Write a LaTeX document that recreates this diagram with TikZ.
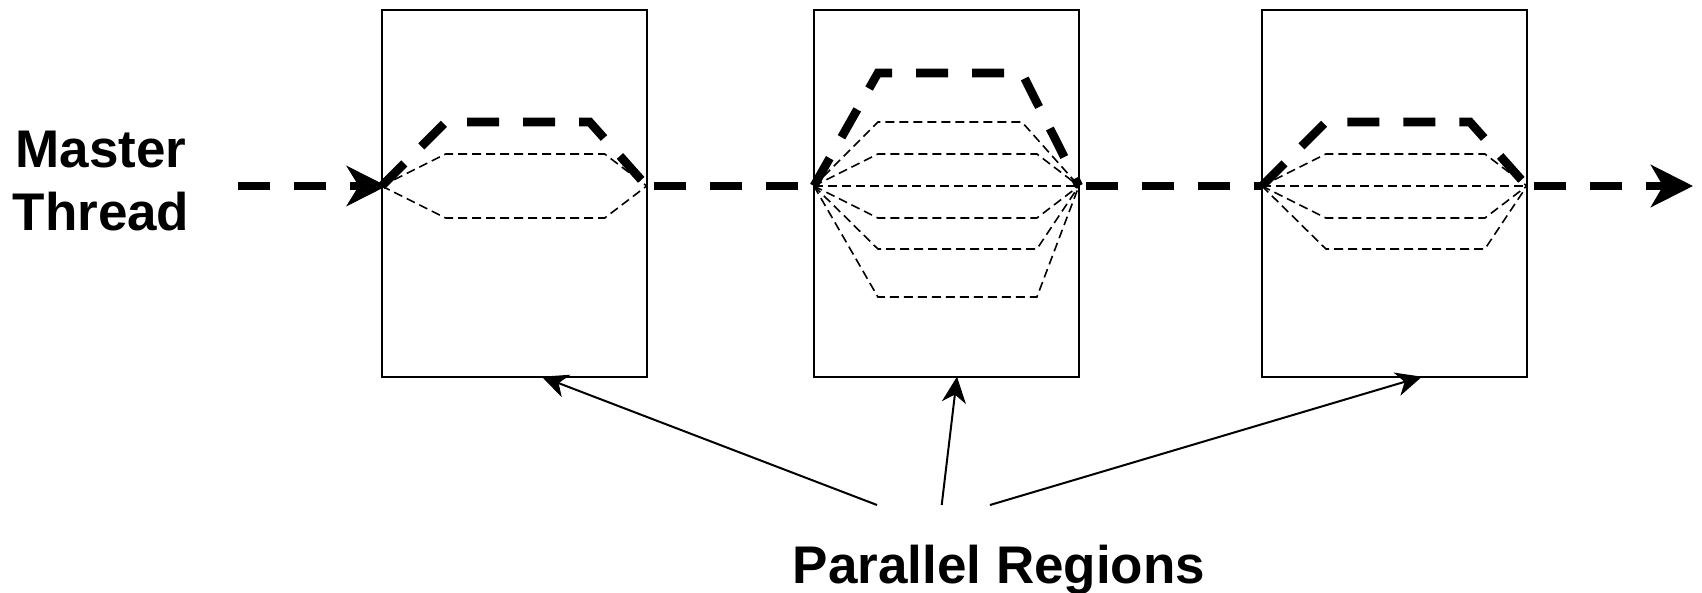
\documentclass[tikz,border=0pt]{standalone}
\usepackage{fontspec}
\setmainfont{Liberation Sans}
\usetikzlibrary{arrows.meta,calc}

% one fan-shaped thread path inside a region box:
% #1 style, #2 left join point, #3 right join point, #4 vertical offset, #5 right inset
\newcommand\threadpath[5]{%
  \draw[#1] (#2) -- ++(64,#4) -- ($(#3)+(-#5,#4)$) -- (#3);}

\begin{document}
\begin{tikzpicture}[x=1pt,y=-1pt,
  region/.style={draw, line width=2pt, minimum width=265pt,
    minimum height=366.7pt, inner sep=0pt, outer sep=0pt},
  master/.style={line width=8.6pt, dash pattern=on 32pt off 24pt},
  worker/.style={line width=1.6pt, dash pattern=on 9pt off 5pt},
  label/.style={font=\fontsize{53}{63}\selectfont\bfseries, align=center,
    inner sep=0pt},
  pointer/.style={line width=2pt,
    -{Stealth[length=26pt,width=24pt,inset=8pt]}},
  bighead/.style={-{Stealth[length=#1,width=#1,inset=12pt]}}
]
\useasboundingbox (0,0) rectangle (1702,593);

% the three parallel regions
\node[region] (b1) at (514.2,193.35) {};
\node[region] (b2) at (946.4,193.35) {};
\node[region] (b3) at (1394.4,193.35) {};

% fork and join points of each region
\coordinate (b1l) at (381.7,186);  \coordinate (b1r) at (646.7,186);
\coordinate (b2l) at (813.9,186);  \coordinate (b2r) at (1078.9,186);
\coordinate (b3l) at (1261.9,186); \coordinate (b3r) at (1526.9,186);

% worker threads
\threadpath{worker}{b1l}{b1r}{-32}{42}
\threadpath{worker}{b1l}{b1r}{32}{42}

\threadpath{worker}{b2l}{b2r}{-64}{57}
\threadpath{worker}{b2l}{b2r}{-32}{42}
\draw[worker] (b2l) -- (b2r);
\threadpath{worker}{b2l}{b2r}{32}{42}
\threadpath{worker}{b2l}{b2r}{63}{42}
\threadpath{worker}{b2l}{b2r}{111}{42}

\threadpath{worker}{b3l}{b3r}{-32}{42}
\draw[worker] (b3l) -- (b3r);
\threadpath{worker}{b3l}{b3r}{32}{42}
\threadpath{worker}{b3l}{b3r}{63}{42}

% master thread
\threadpath{master}{b1l}{b1r}{-64}{57}
\threadpath{master}{b2l}{b2r}{-113}{57}
\threadpath{master}{b3l}{b3r}{-64}{57}

\coordinate (start) at (238,186);
\coordinate (end) at (1693,186);
\draw[master, bighead=40pt] (start) -- ($(b1l)+(5,0)$);
\draw[master, dash phase=49pt] (b1r) -- (b2l);
\draw[master, dash phase=49pt] (b2r) -- (b3l);
\draw[master, dash phase=49pt, bighead=42pt] (b3r) -- (end);

% labels (base anchor sits on the last line)
\node[label, anchor=base] (mt) at (101,231) {Master\\Thread};
\node[label, anchor=base] (pr) at (999,583) {Parallel Regions};

% pointers from the label to the regions
\coordinate (p1) at (877,505);
\coordinate (p2) at (941.7,505);
\coordinate (p3) at (990,505);
\draw[pointer] (p1) -- ($(b1.south west)!0.604!(b1.south east)$);
\draw[pointer] (p2) -- ($(b2.south west)!0.54!(b2.south east)$);
\draw[pointer] (p3) -- ($(b3.south west)!0.604!(b3.south east)$);
\end{tikzpicture}
\end{document}
